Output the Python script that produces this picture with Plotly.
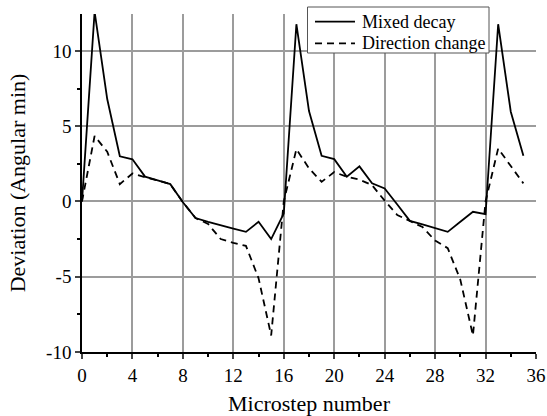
import plotly.graph_objects as go

microstep = list(range(0, 36))
mixed_decay = [0.0, 12.6, 6.8, 3.0, 2.8, 1.65, 1.4, 1.15, -0.05, -1.1,
               -1.35, -1.6, -1.8, -2.02, -1.35, -2.5, -0.8, 11.77, 6.0, 3.03,
               2.81, 1.64, 2.33, 1.2, 0.86, -0.2, -1.29, -1.53, -1.78, -2.02,
               -1.35, -0.69, -0.85, 11.77, 5.96, 3.03]
direction_change = [0.0, 4.35, 3.3, 1.15, 1.86, 1.6, 1.4, 1.15, -0.05, -1.1,
                    -1.5, -2.5, -2.75, -2.95, -5.1, -8.9, 0.0, 3.47, 2.2, 1.3,
                    1.95, 1.64, 1.45, 1.08, 0.05, -0.9, -1.3, -1.7, -2.6, -3.1,
                    -5.2, -8.9, 0.0, 3.52, 2.35, 1.2]

series_names = ["Mixed decay", "Direction change"]
x_ticks = [0, 4, 8, 12, 16, 20, 24, 28, 32, 36]
y_ticks = [-10, -5, 0, 5, 10]
y_ticklabels = ["-10", "-5", "0", "5", "10"]

FONT = "Liberation Serif"
GRID = "#9c9c9c"
DASHES = ["solid", "7px,5px"]

fig = go.Figure()
for name, ys, dash in zip(series_names, [mixed_decay, direction_change], DASHES):
    fig.add_trace(go.Scatter(x=microstep, y=ys, mode="lines", name=name, showlegend=False,
                             line=dict(color="black", width=1.8, dash=dash)))

# compact legend box (paper coordinates)
fig.add_shape(type="rect", xref="paper", yref="paper", x0=0.4967, x1=0.8965, y0=0.8846, y1=1.0207,
              line=dict(color="#555555", width=1), fillcolor="white", layer="above")
row_y = [0.9772, 0.9133]
for name, dash, yy in zip(series_names, DASHES, row_y):
    fig.add_shape(type="line", xref="paper", yref="paper", x0=0.5132, x1=0.6013, y0=yy, y1=yy,
                  line=dict(color="black", width=1.8, dash=dash), layer="above")
    fig.add_annotation(x=0.6123, y=yy, xref="paper", yref="paper", text=name, showarrow=False,
                       xanchor="left", yanchor="middle", font=dict(family=FONT, size=18, color="black"))

fig.update_layout(
    width=547, height=416,
    margin=dict(l=82, r=11, t=14, b=64),
    plot_bgcolor="white", paper_bgcolor="white",
    font=dict(family=FONT, size=19, color="black"),
    showlegend=False,
    xaxis=dict(range=[0, 36], tickvals=x_ticks, ticks="outside", ticklen=5, tickwidth=1.5,
               showline=True, linecolor="black", linewidth=1.5, automargin=False,
               showgrid=True, gridcolor=GRID, gridwidth=1.5, zeroline=False,
               minor=dict(dtick=2, tick0=0, ticks="outside", ticklen=3, tickwidth=1.5,
                          showgrid=False, tickcolor="black"),
               title=dict(text="Microstep number", standoff=19,
                          font=dict(family=FONT, size=22)),
               tickfont=dict(family=FONT, size=19)),
    yaxis=dict(range=[-10, 12.45], tickvals=y_ticks, ticktext=y_ticklabels,
               ticks="outside", ticklen=5, tickwidth=1.5,
               showline=True, linecolor="black", linewidth=1.5, automargin=False,
               showgrid=True, gridcolor=GRID, gridwidth=1.5, zeroline=False,
               minor=dict(dtick=2.5, tick0=0, ticks="outside", ticklen=3, tickwidth=1.5,
                          showgrid=False, tickcolor="black"),
               title=dict(text="Deviation (Angular min)", standoff=14,
                          font=dict(family=FONT, size=22)),
               tickfont=dict(family=FONT, size=19)),
)

fig.write_html("out.html")
